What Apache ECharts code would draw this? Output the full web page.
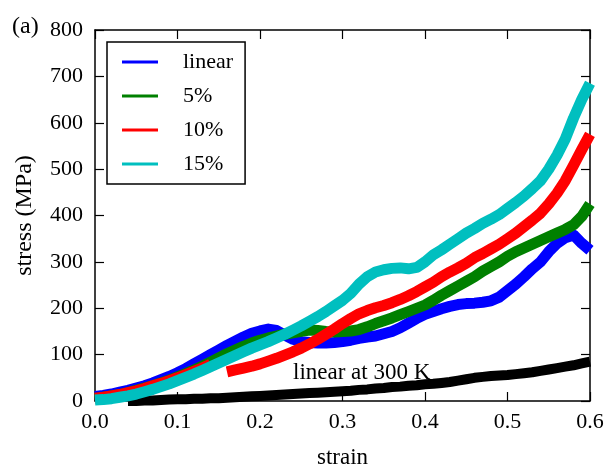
<!DOCTYPE html>
<html><head><meta charset="utf-8">
<script src="https://cdn.jsdelivr.net/npm/echarts@6/dist/echarts.min.js"></script>
<style>html,body{margin:0;padding:0;background:#fff}#c{width:607px;height:468px}</style>
</head><body><div id="c"></div>
<script>
// strain sampled every 0.01 from 0.00 to 0.60
const strain = [0.00,0.01,0.02,0.03,0.04,0.05,0.06,0.07,0.08,0.09,
  0.10,0.11,0.12,0.13,0.14,0.15,0.16,0.17,0.18,0.19,
  0.20,0.21,0.22,0.23,0.24,0.25,0.26,0.27,0.28,0.29,
  0.30,0.31,0.32,0.33,0.34,0.35,0.36,0.37,0.38,0.39,
  0.40,0.41,0.42,0.43,0.44,0.45,0.46,0.47,0.48,0.49,
  0.50,0.51,0.52,0.53,0.54,0.55,0.56,0.57,0.58,0.59,0.60];
const seriesNames = ['linear','5%','10%','15%'];
const linearStress = [10,12,15,19,23,28,33,39,46,53,
  61,70,80,90,100,110,120,129,138,146,
  151,155,152,142,133,128,126,125,125,126,
  128,131,135,138,140,145,150,158,168,178,
  187,193,199,204,208,210,211,213,216,224,
  238,252,268,285,300,322,340,352,358,340,325];
const pct5Stress = [5,8,11,14,18,23,28,33,39,45,
  52,59,67,75,84,93,102,110,118,125,
  131,136,140,144,147,150,153,152,150,149,
  150,151,154,160,167,173,179,186,193,200,
  207,217,228,238,248,258,268,280,290,300,
  312,322,330,338,346,354,362,370,380,398,425];
const pct10Stress = [6,8,11,14,18,22,27,33,38,44,
  50,57,64,71,79,null,63,67,71,75,
  80,86,92,99,106,114,123,133,144,155,
  167,178,188,195,201,206,212,219,227,236,
  246,256,268,278,287,297,309,318,328,338,
  350,362,376,390,405,425,448,475,508,542,575];
const pct15Stress = [2,3,5,8,11,15,20,25,31,37,
  44,51,58,66,74,82,90,98,106,114,
  121,128,136,144,153,162,172,182,193,205,
  217,232,252,268,278,283,286,287,285,288,
  300,315,326,338,350,362,372,383,392,402,
  415,428,442,458,475,500,530,565,610,650,685];
const linear300KStress = [null,null,null,null,0,0,1,1,2,3,
  4,4,5,5,6,6,7,8,9,10,
  11,12,13,14,15,16,17,18,19,20,
  21,22,24,25,27,28,30,31,33,34,
  36,37,39,41,44,47,50,52,54,55,
  56,58,60,62,65,68,71,74,77,81,85];
const seriesColors = ['#0000ff','#008000','#ff0000','#00bfbf'];
const yTicks = [0,100,200,300,400,500,600,700,800];
const xTicks = [0.0,0.1,0.2,0.3,0.4,0.5,0.6];

function pairs(ys){ return strain.map((x,i)=> [x, ys[i]===null ? '-' : ys[i]]); }
const FONT = 'Liberation Serif';
const chart = echarts.init(document.getElementById('c'), null, {renderer:'canvas'});
const lineW = 11;
function mk(name, ys, color, w){
  return {name, type:'line', data:pairs(ys), showSymbol:false, symbol:'none',
    connectNulls:false, lineStyle:{color, width:w, join:'round', cap:'butt'}, itemStyle:{color},
    emphasis:{disabled:true}, xAxisIndex:0, yAxisIndex:0, z:2};
}
const axisLine = {show:true, onZero:false, lineStyle:{color:'#000', width:1.5}};
const axisTick = {show:true, inside:true, length:9, lineStyle:{color:'#000', width:1.2}};
chart.setOption({
  animation:false,
  backgroundColor:'#fff',
  grid:{left:95, right:17, top:30, bottom:67, containLabel:false, outerBoundsMode:'none'},
  legend:{
    data:seriesNames.map((n,i)=>({name:n, icon:'rect', itemStyle:{color:seriesColors[i]}})),
    orient:'vertical', left:107, top:42,
    backgroundColor:'#fff', borderColor:'#000', borderWidth:1.5, borderRadius:0,
    padding:[8,12,8,15], itemGap:10, itemWidth:36, itemHeight:3,
    textStyle:{fontFamily:FONT, fontSize:22, color:'#000', lineHeight:24, padding:[0,0,0,20]},
    selectedMode:false
  },
  xAxis:[{type:'value', min:0, max:0.6, interval:0.1,
    name:'strain', nameLocation:'middle', nameGap:45,
    nameTextStyle:{fontFamily:FONT, fontSize:23, color:'#000'},
    axisLine, axisTick, splitLine:{show:false},
    axisLabel:{fontFamily:FONT, fontSize:22, color:'#000', margin:10,
      formatter:v=>v.toFixed(1)}},
   {type:'value', position:'top', min:0, max:0.6, interval:0.1,
    axisLine, axisTick, axisLabel:{show:false}, splitLine:{show:false}}],
  yAxis:[{type:'value', min:0, max:800, interval:100,
    name:'stress (MPa)', nameLocation:'middle', nameGap:58,
    nameTextStyle:{fontFamily:FONT, fontSize:24, color:'#000'},
    axisLine, axisTick, splitLine:{show:false},
    axisLabel:{fontFamily:FONT, fontSize:22, color:'#000', margin:12}},
   {type:'value', position:'right', min:0, max:800, interval:100,
    axisLine, axisTick, axisLabel:{show:false}, splitLine:{show:false}}],
  graphic:[
    {type:'text', left:12, top:15, style:{text:'(a)', font:'24px "Liberation Serif"', fill:'#000'}},
    {type:'text', left:293, top:361, z:10, style:{text:'linear at 300 K', font:'23px "Liberation Serif"', fill:'#000'}}
  ],
  series:[
    Object.assign(mk('linear 300 K', linear300KStress, '#000', 10), {legendHoverLink:false}),
    mk(seriesNames[0], linearStress, seriesColors[0], lineW),
    mk(seriesNames[1], pct5Stress, seriesColors[1], lineW),
    mk(seriesNames[2], pct10Stress, seriesColors[2], lineW),
    mk(seriesNames[3], pct15Stress, seriesColors[3], lineW)
  ]
});
</script></body></html>
